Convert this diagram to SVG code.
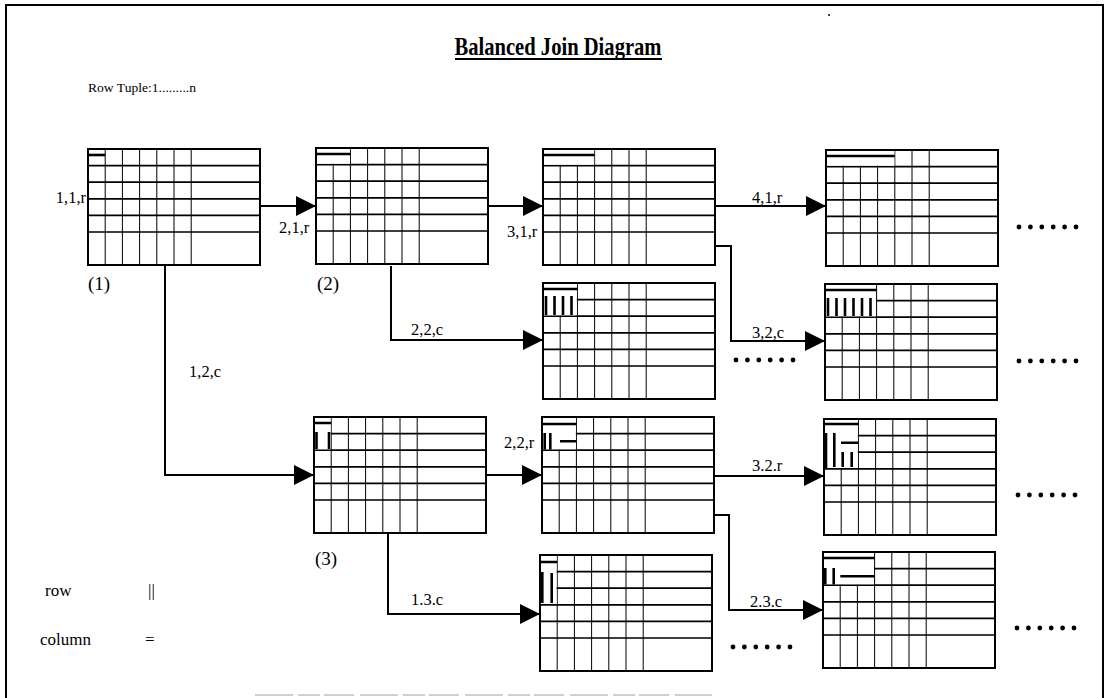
<svg xmlns="http://www.w3.org/2000/svg" xmlns:xlink="http://www.w3.org/1999/xlink" width="1109" height="698" viewBox="0 0 1109 698">
<style>
.ln{stroke:#000;fill:none}
.conn{stroke:#000;stroke-width:2;fill:none}
.mk{stroke:#000;stroke-width:2.6;fill:none}
.er{fill:#fff;stroke:none}
.lbl{font-family:"Liberation Serif","Times New Roman",serif;font-size:16.5px;fill:#000}
.num{font-family:"Liberation Serif","Times New Roman",serif;font-size:19px;fill:#000}
.leg{font-family:"Liberation Serif","Times New Roman",serif;font-size:17px;fill:#000}
</style>
<defs>
<marker id="arr" markerUnits="userSpaceOnUse" markerWidth="22" markerHeight="22" refX="20" refY="10" orient="auto">
<path d="M0,0 L20,10 L0,20 z" fill="#000"/>
</marker>
<g id="grid">
<rect x="0" y="0" width="172" height="116" fill="#fff" stroke="#000" stroke-width="2"/>
<path class="ln" stroke-width="1.7" d="M0,16.6H172M0,33.2H172M0,49.8H172M0,66.4H172M0,83H172"/>
<path class="ln" stroke-width="1" d="M17.2,0V116M34.4,0V116M51.6,0V116M68.8,0V116M86,0V116M103.2,0V116"/>
</g>
<g id="dots">
<circle cx="0" cy="0" r="2.4"/><circle cx="11.4" cy="0" r="2.4"/><circle cx="22.8" cy="0" r="2.4"/><circle cx="34.2" cy="0" r="2.4"/><circle cx="45.6" cy="0" r="2.4"/><circle cx="57" cy="0" r="2.4"/>
</g>
</defs>
<rect width="1109" height="698" fill="#fff"/>
<path class="ln" stroke-width="2" d="M6,698V5H1103V698"/>
<circle cx="829" cy="15" r="1" fill="#000"/>
<path d="M255,695H712" stroke="#cfcfcf" stroke-width="2" stroke-dasharray="38 5 22 4 30 6"/>

<g id="title">
<text x="558" y="55" text-anchor="middle" font-family="Liberation Serif,Times New Roman,serif" font-weight="bold" font-size="26" textLength="207" lengthAdjust="spacingAndGlyphs">Balanced Join Diagram</text>
<path d="M455,59H662" stroke="#000" stroke-width="2"/>
</g>
<text id="rowtuple" x="88" y="92" font-family="Liberation Serif,Times New Roman,serif" font-size="12" textLength="108" lengthAdjust="spacingAndGlyphs">Row Tuple:1.........n</text>

<g id="connectors">
<path class="conn" marker-end="url(#arr)" d="M260,206H316"/>
<path class="conn" marker-end="url(#arr)" d="M487,206H543"/>
<path class="conn" marker-end="url(#arr)" d="M715,206H826"/>
<path class="conn" marker-end="url(#arr)" d="M715,246H731V341H825"/>
<path class="conn" marker-end="url(#arr)" d="M391,266V340H543"/>
<path class="conn" marker-end="url(#arr)" d="M165,266V475H314"/>
<path class="conn" marker-end="url(#arr)" d="M485,475H542"/>
<path class="conn" marker-end="url(#arr)" d="M712,476H824"/>
<path class="conn" marker-end="url(#arr)" d="M712,515H729V610H823"/>
<path class="conn" marker-end="url(#arr)" d="M388,533V614H540"/>
<text class="lbl" x="86" y="203" text-anchor="end">1,1,r</text>
<text class="lbl" x="279" y="233">2,1,r</text>
<text class="lbl" x="507" y="237">3,1,r</text>
<text class="lbl" x="752" y="203">4,1,r</text>
<text class="lbl" x="411" y="335">2,2,c</text>
<text class="lbl" x="189" y="377">1,2,c</text>
<text class="lbl" x="752" y="338">3,2,c</text>
<text class="lbl" x="504" y="448">2,2,r</text>
<text class="lbl" x="752" y="471">3.2.r</text>
<text class="lbl" x="411" y="605">1.3.c</text>
<text class="lbl" x="750" y="607">2.3.c</text>
</g>

<g id="node1" transform="translate(88,149)">
<use xlink:href="#grid"/>
<path class="mk" d="M0,6H17.2"/>
</g>
<g id="node2" transform="translate(316,148)">
<use xlink:href="#grid"/>
<rect class="er" x="1" y="1" width="33" height="14.7"/>
<path class="mk" d="M0,6H34.4"/>
</g>
<g id="node3" transform="translate(543,149)">
<use xlink:href="#grid"/>
<rect class="er" x="1" y="1" width="50.2" height="14.7"/>
<path class="mk" d="M0,6H51.6"/>
</g>
<g id="node4" transform="translate(826,150)">
<use xlink:href="#grid"/>
<rect class="er" x="1" y="1" width="67.4" height="14.7"/>
<path class="mk" d="M0,6H68.8"/>
</g>
<g id="node5" transform="translate(543,283)">
<use xlink:href="#grid"/>
<rect class="er" x="1" y="1" width="32.8" height="31.3"/>
<path class="mk" d="M0,6H34.4M3,13V32M11.5,13V32M20,13V32M28.5,13V32"/>
</g>
<g id="node6" transform="translate(825,284)">
<use xlink:href="#grid"/>
<rect class="er" x="1" y="1" width="50" height="31.3"/>
<path class="mk" d="M0,6H51.6M3,14V32M11.5,14V32M20,14V32M28.5,14V32M37,14V32M45.5,14V32"/>
</g>
<g id="node7" transform="translate(314,417)">
<use xlink:href="#grid"/>
<rect class="er" x="1" y="1" width="15.6" height="31.3"/>
<path class="mk" d="M0,6H17.2M2.5,15V32M15,15V32"/>
</g>
<g id="node8" transform="translate(542,417)">
<use xlink:href="#grid"/>
<rect class="er" x="1" y="1" width="32.8" height="31.3"/>
<path class="mk" d="M0,7H34.4M2.7,16V32.5M8.3,16V32.5M18,24.3H34.4"/>
</g>
<g id="node9" transform="translate(824,419)">
<use xlink:href="#grid"/>
<rect class="er" x="1" y="1" width="32.8" height="48"/>
<path class="mk" d="M0,5H34.4M2,14V49M10.3,14V48M17,23.7H34.4M18.7,33V48M27.7,33V48"/>
</g>
<g id="node10" transform="translate(540,555)">
<use xlink:href="#grid"/>
<rect class="er" x="1" y="1" width="15.6" height="48"/>
<path class="mk" d="M1,7H17.2M2.3,17V48M11.7,18V48"/>
</g>
<g id="node11" transform="translate(823,552)">
<use xlink:href="#grid"/>
<rect class="er" x="1" y="1" width="50" height="31.3"/>
<path class="mk" d="M0,6H51.6M2.3,16V32.5M10.7,16V32.5M17.3,24.3H51.6"/>
</g>

<g id="labels">
<text class="num" x="88" y="290">(1)</text>
<text class="num" x="317" y="290">(2)</text>
<text class="num" x="315" y="565">(3)</text>
<text class="leg" x="45" y="596">row</text>
<text class="leg" x="148" y="596">||</text>
<text class="leg" x="40" y="645">column</text>
<text class="leg" x="145" y="645" font-size="20">=</text>
</g>
<g id="ellipses">
<use xlink:href="#dots" x="1019" y="227"/>
<use xlink:href="#dots" x="736" y="360"/>
<use xlink:href="#dots" x="1019" y="361"/>
<use xlink:href="#dots" x="1018" y="495"/>
<use xlink:href="#dots" x="733" y="647"/>
<use xlink:href="#dots" x="1017" y="628"/>
</g>
</svg>
